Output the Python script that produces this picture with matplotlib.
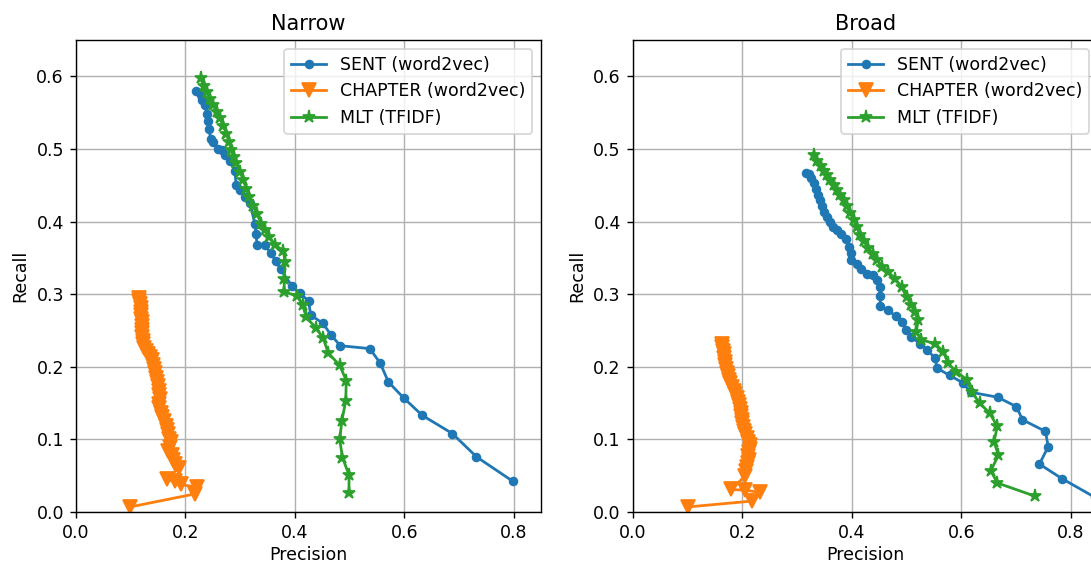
import matplotlib

matplotlib.use("Agg")
import matplotlib.pyplot as plt

# Narrow: (precision, recall) pairs
NARROW_SENT_P = [0.220, 0.228, 0.231, 0.236, 0.239, 0.242, 0.243, 0.246, 0.251, 0.260,
                 0.266, 0.272, 0.281, 0.290, 0.293, 0.300, 0.309, 0.318, 0.327, 0.329,
                 0.331, 0.346, 0.356, 0.365, 0.374, 0.395, 0.409, 0.425, 0.429, 0.451,
                 0.466, 0.483, 0.537, 0.556, 0.571, 0.599, 0.633, 0.688, 0.732, 0.799]
NARROW_SENT_R = [0.580, 0.574, 0.568, 0.560, 0.548, 0.539, 0.528, 0.514, 0.509, 0.500,
                 0.498, 0.491, 0.484, 0.470, 0.450, 0.443, 0.434, 0.425, 0.397, 0.383,
                 0.367, 0.367, 0.356, 0.346, 0.334, 0.311, 0.301, 0.291, 0.271, 0.260,
                 0.244, 0.229, 0.225, 0.205, 0.179, 0.157, 0.133, 0.108, 0.076, 0.042]

NARROW_CHAP_P = [0.115, 0.116, 0.117, 0.118, 0.118, 0.119, 0.119, 0.120, 0.120, 0.120,
                 0.121, 0.121, 0.122, 0.122, 0.124, 0.127, 0.131, 0.135, 0.138, 0.140,
                 0.142, 0.144, 0.146, 0.148, 0.150, 0.151, 0.152, 0.153, 0.151, 0.152,
                 0.155, 0.158, 0.161, 0.164, 0.166, 0.168, 0.170, 0.174, 0.171, 0.168,
                 0.176, 0.178, 0.181, 0.188, 0.166, 0.180, 0.191, 0.222, 0.218, 0.099]
NARROW_CHAP_R = [0.295, 0.291, 0.286, 0.281, 0.276, 0.271, 0.266, 0.261, 0.256, 0.251,
                 0.246, 0.241, 0.236, 0.231, 0.226, 0.222, 0.218, 0.214, 0.209, 0.203,
                 0.197, 0.191, 0.185, 0.179, 0.173, 0.167, 0.161, 0.155, 0.149, 0.143,
                 0.137, 0.131, 0.125, 0.119, 0.113, 0.107, 0.101, 0.096, 0.089, 0.084,
                 0.079, 0.072, 0.066, 0.061, 0.045, 0.042, 0.038, 0.034, 0.025, 0.007]

NARROW_MLT_P = [0.228, 0.233, 0.239, 0.245, 0.251, 0.257, 0.263, 0.269, 0.275, 0.280,
                0.284, 0.289, 0.293, 0.300, 0.306, 0.311, 0.317, 0.323, 0.330, 0.339,
                0.345, 0.353, 0.363, 0.379, 0.382, 0.381, 0.380, 0.404, 0.414, 0.421,
                0.438, 0.452, 0.461, 0.482, 0.494, 0.493, 0.486, 0.482, 0.487, 0.499,
                0.499]
NARROW_MLT_R = [0.597, 0.587, 0.578, 0.569, 0.560, 0.551, 0.542, 0.532, 0.521, 0.509,
                0.498, 0.489, 0.480, 0.468, 0.457, 0.445, 0.434, 0.422, 0.411, 0.397,
                0.388, 0.379, 0.368, 0.360, 0.344, 0.321, 0.303, 0.298, 0.285, 0.268,
                0.254, 0.239, 0.219, 0.202, 0.181, 0.153, 0.126, 0.100, 0.075, 0.051,
                0.026]

# Broad
BROAD_SENT_P = [0.316, 0.322, 0.326, 0.331, 0.334, 0.338, 0.342, 0.345, 0.349, 0.355,
                0.360, 0.366, 0.373, 0.381, 0.389, 0.395, 0.398, 0.399, 0.409, 0.416,
                0.427, 0.439, 0.446, 0.451, 0.452, 0.452, 0.466, 0.480, 0.491, 0.499,
                0.509, 0.524, 0.538, 0.552, 0.556, 0.579, 0.603, 0.617, 0.667, 0.701,
                0.712, 0.754, 0.759, 0.743, 0.784, 0.845]
BROAD_SENT_R = [0.467, 0.466, 0.460, 0.453, 0.445, 0.436, 0.429, 0.421, 0.413, 0.406,
                0.399, 0.392, 0.389, 0.383, 0.376, 0.365, 0.356, 0.347, 0.342, 0.335,
                0.328, 0.327, 0.319, 0.310, 0.297, 0.283, 0.278, 0.270, 0.262, 0.251,
                0.241, 0.232, 0.223, 0.212, 0.198, 0.188, 0.178, 0.165, 0.158, 0.145,
                0.127, 0.111, 0.090, 0.066, 0.046, 0.020]

BROAD_CHAP_P = [0.162, 0.163, 0.164, 0.166, 0.167, 0.168, 0.169, 0.170, 0.171, 0.173,
                0.175, 0.178, 0.181, 0.184, 0.187, 0.190, 0.192, 0.194, 0.195, 0.197,
                0.198, 0.199, 0.200, 0.201, 0.202, 0.205, 0.208, 0.211, 0.213, 0.214,
                0.212, 0.211, 0.212, 0.210, 0.208, 0.206, 0.205, 0.180, 0.205, 0.232,
                0.217, 0.101]
BROAD_CHAP_R = [0.232, 0.227, 0.222, 0.217, 0.212, 0.207, 0.202, 0.197, 0.192, 0.187,
                0.182, 0.177, 0.172, 0.167, 0.162, 0.157, 0.152, 0.147, 0.142, 0.137,
                0.132, 0.127, 0.122, 0.117, 0.112, 0.107, 0.102, 0.097, 0.092, 0.087,
                0.082, 0.077, 0.072, 0.067, 0.062, 0.057, 0.050, 0.031, 0.030, 0.027,
                0.015, 0.007]

BROAD_MLT_P = [0.331, 0.337, 0.343, 0.349, 0.355, 0.361, 0.367, 0.373, 0.379, 0.385,
               0.391, 0.397, 0.404, 0.409, 0.415, 0.422, 0.430, 0.438, 0.446, 0.456,
               0.466, 0.479, 0.491, 0.500, 0.509, 0.515, 0.521, 0.518, 0.527, 0.552,
               0.567, 0.576, 0.591, 0.611, 0.619, 0.634, 0.652, 0.666, 0.660, 0.668,
               0.654, 0.666, 0.734]
BROAD_MLT_R = [0.491, 0.484, 0.477, 0.470, 0.464, 0.457, 0.450, 0.443, 0.436, 0.429,
               0.421, 0.412, 0.402, 0.392, 0.382, 0.373, 0.364, 0.355, 0.347, 0.338,
               0.331, 0.321, 0.310, 0.296, 0.285, 0.276, 0.264, 0.248, 0.237, 0.232,
               0.221, 0.205, 0.193, 0.182, 0.165, 0.150, 0.136, 0.118, 0.097, 0.078,
               0.057, 0.040, 0.022]

LABELS = ["SENT (word2vec)", "CHAPTER (word2vec)", "MLT (TFIDF)"]
STYLES = [("#1f77b4", "o", 4.5), ("#ff7f0e", "v", 8), ("#2ca02c", "*", 7.5)]

PANELS = [
    ("Narrow", [(NARROW_SENT_P, NARROW_SENT_R), (NARROW_CHAP_P, NARROW_CHAP_R),
                (NARROW_MLT_P, NARROW_MLT_R)]),
    ("Broad", [(BROAD_SENT_P, BROAD_SENT_R), (BROAD_CHAP_P, BROAD_CHAP_R),
               (BROAD_MLT_P, BROAD_MLT_R)]),
]

fig = plt.figure(figsize=(1091 / 125, 564 / 125), dpi=125)
# right panel runs slightly past the figure edge, as in the reference crop
positions = [(0.0697, 0.0922, 0.4262, 0.8369), (0.5802, 0.0922, 0.4262, 0.8369)]

for pos, (title, series) in zip(positions, PANELS):
    ax = fig.add_axes(pos)
    for (p, r), label, (colour, marker, ms) in zip(series, LABELS, STYLES):
        ax.plot(p, r, color=colour, marker=marker, markersize=ms, linewidth=1.6,
                label=label)
    ax.set_xlim(0, 0.85)
    ax.set_ylim(0, 0.65)
    ax.set_xticks([0.0, 0.2, 0.4, 0.6, 0.8])
    ax.set_yticks([0.0, 0.1, 0.2, 0.3, 0.4, 0.5, 0.6])
    ax.grid(True)
    ax.set_title(title, fontsize=12)
    ax.set_xlabel("Precision", labelpad=2)
    ax.set_ylabel("Recall")
    ax.legend(loc="upper right")

fig.savefig("out.png", dpi=125, facecolor="white")
